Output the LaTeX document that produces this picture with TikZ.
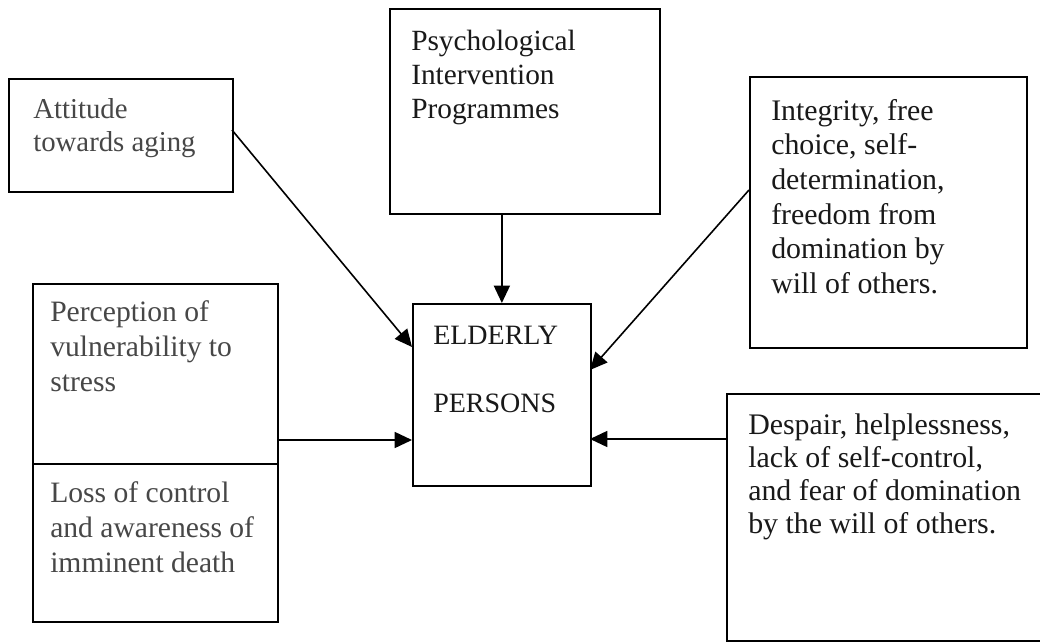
\documentclass[tikz,border=0pt]{standalone}
\usepackage{fontspec}
\setmainfont{Liberation Serif}
\usetikzlibrary{arrows.meta}
\begin{document}
\begin{tikzpicture}[x=0.75pt,y=-0.75pt,
  box/.style={draw=black, line width=1.3pt, inner sep=0pt, anchor=north west},
  lbl/.style={anchor=north west, inner sep=0pt, align=left, font=\fontsize{22pt}{25pt}\selectfont, text=black!90},
  glbl/.style={lbl, text=black!72},
  arr/.style={line width=1.2pt, -{Triangle[length=13pt,width=12pt]}}]
\clip (0,0) rectangle (1040,642);
\fill[white] (0,0) rectangle (1040,642);
% boxes
\node[box, minimum width=224*0.75pt, minimum height=113*0.75pt] (att) at (8,78) {};
\node[box, minimum width=270*0.75pt, minimum height=205*0.75pt] (psy) at (389,8) {};
\node[box, minimum width=277*0.75pt, minimum height=271*0.75pt] (integ) at (749,76) {};
\node[box, minimum width=245*0.75pt, minimum height=180*0.75pt] (perc) at (32,283) {};
\node[box, minimum width=245*0.75pt, minimum height=158*0.75pt] (loss) at (32,463) {};
\node[box, minimum width=178*0.75pt, minimum height=182*0.75pt] (eld) at (412,303) {};
\node[box, minimum width=330*0.75pt, minimum height=247*0.75pt] (desp) at (726,393) {};
% texts
\node[glbl, font=\fontsize{21.6pt}{24.8pt}\selectfont] (tatt) at (33,98) {Attitude\\towards aging};
\node[lbl, font=\fontsize{22pt}{25.5pt}\selectfont] (tpsy) at (411,30) {Psychological\\Intervention\\Programmes};
\node[lbl, font=\fontsize{22.4pt}{26pt}\selectfont] (tint) at (771,99) {Integrity, free\\choice, self-\\determination,\\freedom from\\domination by\\will of others.};
\node[glbl, font=\fontsize{22.2pt}{26.4pt}\selectfont] (tperc) at (50,300) {Perception of\\vulnerability to\\stress};
\node[glbl, font=\fontsize{22.2pt}{26.4pt}\selectfont] (tloss) at (50,481) {Loss of control\\and awareness of\\imminent death};
\node[lbl, font=\fontsize{21pt}{51pt}\selectfont] (teld) at (433,326) {ELDERLY\\PERSONS};
\node[lbl, font=\fontsize{22.4pt}{24.7pt}\selectfont] (tdesp) at (748,414) {Despair, helplessness,\\lack of self-control,\\and fear of domination\\by the will of others.};
% connectors
\coordinate (a1) at (232,130);
\coordinate (a2) at (412,347);
\draw[arr] (a1) -- (a2);
\draw[arr] (eld.north |- psy.south) -- (eld.north);
\coordinate (b1) at (749,190);
\coordinate (b2) at (590,370);
\draw[arr] (b1) -- (b2);
\coordinate (c1) at (277,440);
\coordinate (c2) at (412,440);
\draw[arr] (c1) -- (c2);
\coordinate (d1) at (726,439);
\coordinate (d2) at (590,439);
\draw[arr] (d1) -- (d2);
\end{tikzpicture}
\end{document}
